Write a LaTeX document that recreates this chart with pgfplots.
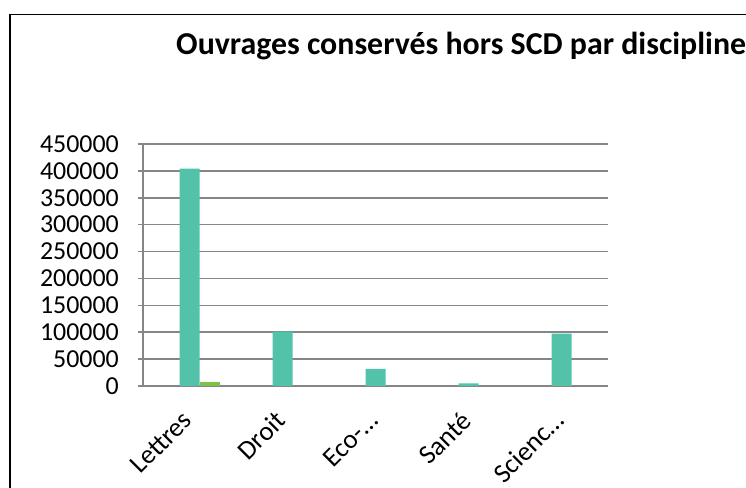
\documentclass[border=0pt]{standalone}
\usepackage{pgfplots}
\pgfplotsset{compat=1.18}
\usepackage{fontspec}
\setmainfont{Carlito}
\definecolor{teal1}{RGB}{82,195,169}
\definecolor{green1}{RGB}{125,193,70}
\definecolor{gridg}{RGB}{134,134,134}
\begin{document}
\begin{tikzpicture}[x=1bp,y=1bp]
\useasboundingbox (0,0) rectangle (746,488);
\draw[line width=1.2bp] (10,0) -- (10,473.5) -- (746,473.5);
\node[anchor=base west, inner sep=0pt, font=\fontsize{32}{36}\selectfont\bfseries] at (176,433) {Ouvrages conservés hors SCD par discipline};
\begin{axis}[
  at={(143bp,102bp)}, anchor=south west,
  scale only axis, width=465bp, height=242bp,
  xmin=-0.5, xmax=4.5, ymin=0, ymax=450000,
  xtick={0,1,2,3,4},
  xticklabels={Lettres,Droit,Eco-…,Santé,Scienc…},
  ytick={0,50000,...,450000},
  scaled y ticks=false,
  ymajorgrids,
  grid style={gridg, line width=1.5bp},
  axis x line*=bottom, axis y line*=left,
  axis line style={-, gridg, line width=1.5bp},
  tick align=outside,
  major tick length=5bp,
  xtick style={draw=none},
  ytick style={gridg, line width=1.5bp},
  yticklabel style={font=\fontsize{26}{30}\selectfont, inner sep=0pt, xshift=-19bp,
    /pgf/number format/.cd, fixed, 1000 sep={}, assume math mode=true},
  xticklabel style={font=\fontsize{27}{30}\selectfont, anchor=east, inner sep=0pt, xshift=-2bp, yshift=-25bp, rotate=45},
]
\addplot[ybar, bar width=20bp, bar shift=0bp, fill=teal1, draw=none] coordinates {(0,404000) (1,101000) (2,32000) (3,5000) (4,97500)};
\addplot[ybar, bar width=20bp, bar shift=20bp, fill=green1, draw=none] coordinates {(0,8000)};
\end{axis}
\end{tikzpicture}
\end{document}
